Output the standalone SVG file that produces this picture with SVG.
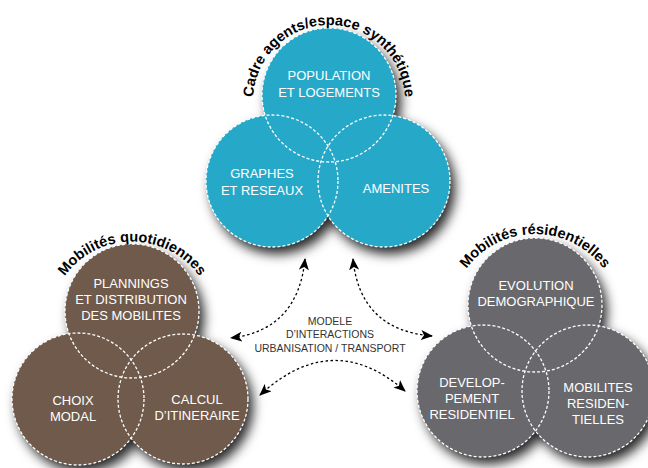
<svg xmlns="http://www.w3.org/2000/svg" width="648" height="468" viewBox="0 0 648 468">
<defs>
<filter id="shadow" x="-20%" y="-20%" width="150%" height="150%">
<feDropShadow dx="5" dy="7" stdDeviation="6" flood-color="#000" flood-opacity="0.85"/>
</filter>
<marker id="arr" viewBox="0 0 12 10" refX="11" refY="5" markerWidth="12" markerHeight="10" markerUnits="userSpaceOnUse" orient="auto-start-reverse">
<path d="M0,0 L12,5 L0,10 L3,5 Z" fill="#000"/>
</marker>
<path id="arcTop" d="M 253 101 A 76 76 0 1 1 405 101"/>
<path id="arcBrown" d="M 50.2 310.6 A 83 83 0 0 1 213.8 310.6"/>
<path id="arcGray" d="M 451.3 304.2 A 85 85 0 0 1 618.7 304.2"/>
</defs>
<style>
.ol{fill:none;stroke:#fff;stroke-width:1.3;stroke-dasharray:3 2}
.blue{fill:#28A9C9}
.brown{fill:#6F5A4B}
.gray{fill:#69686C}
.lbl{font-family:"Liberation Sans",Arial,sans-serif;font-size:13px;fill:#fff;text-anchor:middle}
.title{font-family:"Liberation Sans",Arial,sans-serif;font-size:14.5px;font-weight:bold;fill:#000}
.center{font-family:"Liberation Sans",Arial,sans-serif;font-size:10.5px;fill:#333;text-anchor:middle}
.conn{fill:none;stroke:#000;stroke-width:1.3;stroke-dasharray:2.5 2.5;marker-start:url(#arr);marker-end:url(#arr)}
</style>
<rect width="648" height="468" fill="#fff"/>

<!-- cluster fills with shadow -->
<g id="fills-cadre" filter="url(#shadow)">
<circle class="blue" cx="329" cy="95" r="67"/>
<circle class="blue" cx="272" cy="181" r="66"/>
<circle class="blue" cx="384" cy="181" r="66"/>
</g>
<g id="fills-quotidiennes" filter="url(#shadow)">
<circle class="brown" cx="132" cy="311" r="67"/>
<circle class="brown" cx="78" cy="399" r="66"/>
<circle class="brown" cx="183" cy="399" r="65"/>
</g>
<g id="fills-residentielles" filter="url(#shadow)">
<circle class="gray" cx="535" cy="305" r="67"/>
<circle class="gray" cx="483" cy="391" r="66"/>
<circle class="gray" cx="588" cy="391" r="66"/>
</g>

<!-- nodes -->
<g id="node-population">
<circle class="ol" cx="329" cy="95" r="67"/>
<text class="lbl" x="329" y="80">POPULATION</text>
<text class="lbl" x="329" y="97">ET LOGEMENTS</text>
</g>
<g id="node-graphes">
<circle class="ol" cx="272" cy="181" r="66"/>
<text class="lbl" x="262" y="178">GRAPHES</text>
<text class="lbl" x="262" y="195">ET RESEAUX</text>
</g>
<g id="node-amenites">
<circle class="ol" cx="384" cy="181" r="66"/>
<text class="lbl" x="396" y="193">AMENITES</text>
</g>
<g id="node-plannings">
<circle class="ol" cx="132" cy="311" r="67"/>
<text class="lbl" x="131" y="288">PLANNINGS</text>
<text class="lbl" x="131" y="304">ET DISTRIBUTION</text>
<text class="lbl" x="131" y="320">DES MOBILITES</text>
</g>
<g id="node-choix">
<circle class="ol" cx="78" cy="399" r="66"/>
<text class="lbl" x="73" y="405">CHOIX</text>
<text class="lbl" x="73" y="421">MODAL</text>
</g>
<g id="node-calcul">
<circle class="ol" cx="183" cy="399" r="65"/>
<text class="lbl" x="197" y="404">CALCUL</text>
<text class="lbl" x="197" y="420">D’ITINERAIRE</text>
</g>
<g id="node-evolution">
<circle class="ol" cx="535" cy="305" r="67"/>
<text class="lbl" x="536" y="290">EVOLUTION</text>
<text class="lbl" x="536" y="306">DEMOGRAPHIQUE</text>
</g>
<g id="node-developpement">
<circle class="ol" cx="483" cy="391" r="66"/>
<text class="lbl" x="472" y="387">DEVELOP-</text>
<text class="lbl" x="472" y="403">PEMENT</text>
<text class="lbl" x="472" y="419">RESIDENTIEL</text>
</g>
<g id="node-mobilites-res">
<circle class="ol" cx="588" cy="391" r="66"/>
<text class="lbl" x="598" y="392">MOBILITES</text>
<text class="lbl" x="598" y="408">RESIDEN-</text>
<text class="lbl" x="598" y="424">TIELLES</text>
</g>

<!-- cluster titles -->
<g id="title-cadre">
<text class="title"><textPath href="#arcTop" startOffset="50%" text-anchor="middle">Cadre agents/espace synthétique</textPath></text>
</g>
<g id="title-quotidiennes">
<text class="title"><textPath href="#arcBrown" startOffset="50%" text-anchor="middle">Mobilités quotidiennes</textPath></text>
</g>
<g id="title-residentielles">
<text class="title"><textPath href="#arcGray" startOffset="50%" text-anchor="middle">Mobilités résidentielles</textPath></text>
</g>

<!-- center model -->
<g id="node-modele">
<text class="center" x="330" y="325">MODELE</text>
<text class="center" x="330" y="338">D’INTERACTIONS</text>
<text class="center" x="330" y="352">URBANISATION / TRANSPORT</text>
</g>

<!-- connectors -->
<g id="connectors">
<path class="conn" d="M 305 259 Q 298 330 231 338"/>
<path class="conn" d="M 353 259 Q 360 330 432 336"/>
<path class="conn" d="M 260 395 Q 333 328 405 391"/>
</g>
</svg>
